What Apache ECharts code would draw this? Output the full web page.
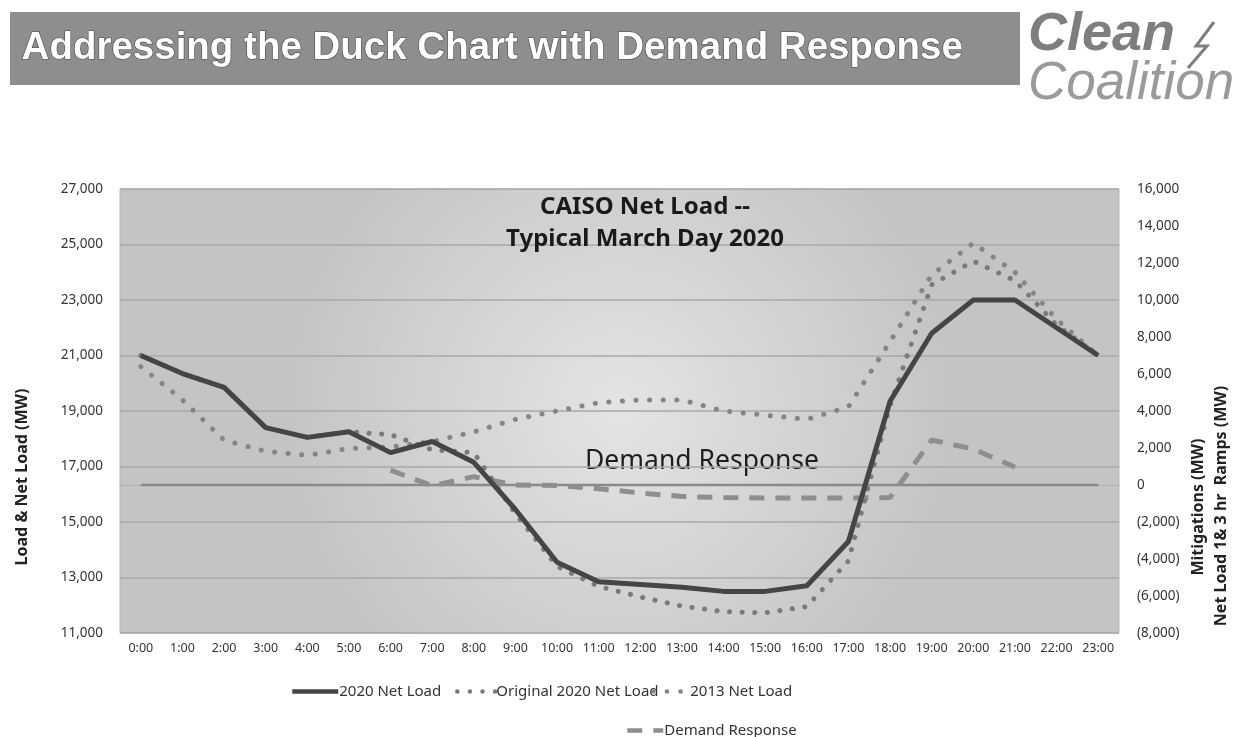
<!DOCTYPE html>
<html>
<head>
<meta charset="utf-8">
<title>Addressing the Duck Chart with Demand Response</title>
<script src="https://cdn.jsdelivr.net/npm/echarts@6/dist/echarts.min.js"></script>
<style>
  html, body { margin: 0; padding: 0; background: #fff; }
  #main { width: 1244px; height: 737px; }
</style>
</head>
<body>
<div id="main"></div>
<script>
// horas do dia
var hours = ['0:00','1:00','2:00','3:00','4:00','5:00','6:00','7:00','8:00','9:00','10:00','11:00',
  '12:00','13:00','14:00','15:00','16:00','17:00','18:00','19:00','20:00','21:00','22:00','23:00'];

// eixo esquerdo (MW)
var netLoad2020 = [21000, 20350, 19850, 18400, 18050, 18250, 17500, 17900, 17150, 15450, 13550, 12850,
  12750, 12650, 12500, 12500, 12700, 14300, 19350, 21800, 23000, 23000, 22000, 21000];
var original2020 = [21000, 20350, 19850, 18400, 18050, 18250, 18150, 17600, 17500, 15300, 13400, 12680,
  12300, 11970, 11770, 11730, 11950, 13600, 19200, 23550, 24400, 23700, 22100, 21000];
var netLoad2013 = [20600, 19400, 17950, 17550, 17400, 17650, 17700, 17900, 18250, 18700, 19000, 19300,
  19400, 19400, 19000, 18850, 18700, 19150, 21500, 23900, 25050, 24000, 22300, 21000];

// eixo direito (MW)
var demandResponse = [null, null, null, null, null, null, 800, -50, 450, 0, -30, -200,
  -430, -620, -680, -700, -700, -700, -680, 2430, 1950, 970, null, null];
var zeroLine = [0, 0, 0, 0, 0, 0, 0, 0, 0, 0, 0, 0, 0, 0, 0, 0, 0, 0, 0, 0, 0, 0, 0, 0];

var FONT = 'Noto Sans';

var myChart = echarts.init(document.getElementById('main'));

function rightLabel(v) {
  if (v < 0) return '(' + echarts.format.addCommas(-v) + ')';
  return echarts.format.addCommas(v);
}

// uma legenda por item, para posicionar como no original
function legendBox(name, left, top, w) {
  return {
    data: [name],
    left: left,
    top: top,
    itemWidth: w,
    itemHeight: 12,
    itemGap: 0,
    itemStyle: { opacity: 0 },
    lineStyle: { width: 4.5 },
    textStyle: { fontFamily: FONT, fontSize: 15, color: '#333', padding: [0, 0, 0, -4] }
  };
}

myChart.setOption({
  backgroundColor: '#fff',
  animation: false,
  title: [
    {
      text: 'CAISO Net Load --\nTypical March Day 2020',
      left: 640,
      top: 186,
      textAlign: 'center',
      textStyle: { fontFamily: FONT, fontWeight: 'bold', fontSize: 24, lineHeight: 32, color: '#1a1a1a' }
    }
  ],
  graphic: [
    // faixa do título
    { type: 'rect', shape: { x: 10, y: 12, width: 1010, height: 73 }, style: { fill: '#8e8e8e' } },
    {
      type: 'text', left: 21, top: 28,
      style: {
        text: 'Addressing the Duck Chart with Demand Response',
        fill: '#fff', font: 'bold 38.5px "Liberation Sans", Arial, sans-serif',
        stroke: '#4a4a4a', lineWidth: 1.2
      }
    },
    // logo
    {
      type: 'text', left: 1028, top: 8,
      style: { text: 'Clean', fill: '#7e7e7e', font: 'italic bold 54px "Liberation Sans", Arial, sans-serif' }
    },
    {
      type: 'polyline',
      shape: { points: [[1214, 22], [1196, 46], [1207, 46], [1188, 68]] },
      style: { stroke: '#7e7e7e', lineWidth: 3, fill: null }
    },
    {
      type: 'text', left: 1028, top: 58,
      style: { text: 'Coalition', fill: '#9a9a9a', font: 'italic 53px "Liberation Sans", Arial, sans-serif' }
    },
    // nomes dos eixos
    {
      type: 'text', x: 22, y: 477, rotation: Math.PI / 2,
      style: { text: 'Load & Net Load (MW)', fill: '#222', font: 'bold 16px "Noto Sans"', align: 'center', verticalAlign: 'middle' }
    },
    {
      type: 'text', x: 1198, y: 507, rotation: Math.PI / 2,
      style: { text: 'Mitigations (MW)', fill: '#222', font: 'bold 16px "Noto Sans"', align: 'center', verticalAlign: 'middle' }
    },
    {
      type: 'text', x: 1221, y: 506, rotation: Math.PI / 2,
      style: { text: 'Net Load 1& 3 hr  Ramps (MW)', fill: '#222', font: 'bold 16px "Noto Sans"', align: 'center', verticalAlign: 'middle' }
    },
    {
      type: 'text', x: 702, y: 461,
      style: { text: 'Demand Response', fill: '#1e1e1e', font: '26.5px "Noto Sans"', align: 'center', verticalAlign: 'middle' }
    }
  ],
  legend: [
    legendBox('2020 Net Load', 285, 679, 46),
    legendBox('Original 2020 Net Load', 450, 679, 38),
    legendBox('2013 Net Load', 646, 679, 36),
    legendBox('Demand Response', 620, 718, 36)
  ],
  grid: {
    left: 120,
    right: 125,
    top: 189,
    bottom: 104,
    show: true,
    borderColor: '#b5b5b5',
    borderWidth: 1,
    backgroundColor: new echarts.graphic.RadialGradient(0.5, 0.5, 0.75, [
      { offset: 0, color: '#e4e4e4' },
      { offset: 1, color: '#c4c4c4' }
    ])
  },
  xAxis: {
    type: 'category',
    boundaryGap: true,
    data: hours,
    axisLine: { show: true, lineStyle: { color: '#b0b0b0' } },
    axisTick: { show: false },
    axisLabel: { fontFamily: FONT, fontSize: 12.5, color: '#333', margin: 9 },
    splitLine: { show: false }
  },
  yAxis: [
    {
      type: 'value',
      min: 11000,
      max: 27000,
      interval: 2000,
      position: 'left',
      axisLine: { show: false },
      axisTick: { show: false },
      axisLabel: {
        fontFamily: FONT, fontSize: 13.5, color: '#333', margin: 17,
        formatter: function (v) { return echarts.format.addCommas(v); }
      },
      splitLine: { show: true, lineStyle: { color: '#a9a9a9', width: 1.5 } }
    },
    {
      type: 'value',
      min: -8000,
      max: 16000,
      interval: 2000,
      position: 'right',
      axisLine: { show: false },
      axisTick: { show: false },
      axisLabel: { fontFamily: FONT, fontSize: 13.5, color: '#333', margin: 18, formatter: rightLabel },
      splitLine: { show: false }
    }
  ],
  series: [
    {
      name: 'Zero',
      type: 'line',
      yAxisIndex: 1,
      data: zeroLine,
      symbol: 'none',
      silent: true,
      z: 1,
      lineStyle: { color: '#8a8a8a', width: 2.5 }
    },
    {
      name: 'Demand Response',
      type: 'line',
      yAxisIndex: 1,
      data: demandResponse,
      symbol: 'none',
      z: 2,
      itemStyle: { color: '#8e8e8e' },
      lineStyle: { color: '#8e8e8e', width: 5, type: [15, 11] }
    },
    {
      name: '2013 Net Load',
      type: 'line',
      data: netLoad2013,
      symbol: 'none',
      z: 3,
      itemStyle: { color: '#858585' },
      lineStyle: { color: '#858585', width: 5, type: [0.1, 13.5], cap: 'round' }
    },
    {
      name: 'Original 2020 Net Load',
      type: 'line',
      data: original2020,
      symbol: 'none',
      z: 4,
      itemStyle: { color: '#7a7a7a' },
      lineStyle: { color: '#7a7a7a', width: 5, type: [0.1, 12.5], cap: 'round' }
    },
    {
      name: '2020 Net Load',
      type: 'line',
      data: netLoad2020,
      symbol: 'none',
      z: 5,
      itemStyle: { color: '#454545' },
      lineStyle: { color: '#454545', width: 5 }
    }
  ]
});
</script>
</body>
</html>
